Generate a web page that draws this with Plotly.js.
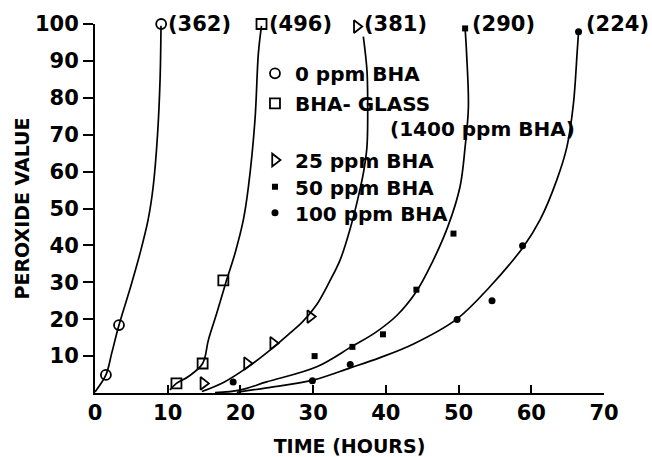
<!DOCTYPE html>
<html>
<head>
<meta charset="utf-8">
<script src="https://cdn.plot.ly/plotly-3.0.1.min.js"></script>
<style>html,body{margin:0;padding:0;background:#fff;}#chart{width:652px;height:457px;}</style>
</head>
<body>
<div id="chart"></div>
<script>
// ---- measured points (hours, peroxide value) ----
const ppm0X = [1.5, 3.3, 9.1];
const ppm0Y = [4.9, 18.4, 100];
const glassX = [11.2, 14.8, 17.65, 22.9];
const glassY = [2.6, 8.0, 30.5, 100];
const ppm25X = [14.9, 20.9, 24.5, 29.6, 36.0];
const ppm25Y = [2.6, 8.0, 13.5, 20.7, 99.3];
const ppm50X = [30.2, 35.4, 39.6, 44.2, 49.3, 50.9];
const ppm50Y = [10.0, 12.5, 15.9, 28.0, 43.2, 98.8];
const ppm100X = [19.0, 29.9, 35.1, 49.8, 54.6, 58.8, 66.5];
const ppm100Y = [3.0, 3.3, 7.7, 19.9, 25.0, 39.9, 97.9];

// ---- hand-drawn curves ----
const curve0X = [0.0, 1.5, 2.3, 3.3, 4.9, 6.2, 7.3, 8.0, 8.6, 8.95, 9.08];
const curve0Y = [0.3, 4.9, 10.8, 18.4, 28.8, 37.9, 46.9, 55.9, 70.0, 85.0, 99.5];
const curveGlassX = [10.3, 11.2, 12.8, 14.8, 15.6, 16.74, 18.1, 19.26, 20.4, 21.1, 22.0, 22.47, 22.9];
const curveGlassY = [0.8, 2.6, 4.4, 8.0, 14.4, 21.6, 30.6, 37.9, 46.9, 55.9, 74.0, 92.1, 99.5];
const curve25X = [14.7, 17.8, 21.0, 24.5, 26.8, 28.5, 30.5, 32.2, 33.7, 35.1, 36.0, 36.9, 37.4, 37.5, 37.4, 36.9];
const curve25Y = [0.4, 3.0, 7.0, 12.3, 16.2, 19.2, 24.0, 30.0, 36.0, 44.6, 51.4, 59.5, 66.7, 78.5, 87.5, 96.6];
const curve50X = [16.5, 19.9, 23.6, 30.5, 35.4, 38.5, 41.5, 44.2, 46.4, 48.6, 50.2, 50.9, 51.35, 51.1, 50.9];
const curve50Y = [0.1, 0.8, 3.0, 7.1, 12.7, 16.3, 21.0, 27.5, 35.5, 45.5, 55.9, 66.7, 77.6, 92.1, 98.8];
const curve100X = [19.5, 23.6, 30.0, 35.1, 39.2, 43.8, 49.8, 54.3, 58.9, 61.2, 63.5, 64.9, 65.8, 66.3, 66.5];
const curve100Y = [0.2, 1.4, 3.5, 6.8, 9.6, 13.3, 20.1, 28.8, 39.6, 46.9, 57.7, 66.7, 78.5, 92.1, 97.9];

// ---- text ----
const seriesNames = ['0 ppm BHA', 'BHA- GLASS', '25 ppm BHA', '50 ppm BHA', '100 ppm BHA'];
const glassNote = '(1400 ppm BHA)';
const topLabels = ['(362)', '(496)', '(381)', '(290)', '(224)'];
const xTicks = [0, 10, 20, 30, 40, 50, 60, 70];
const yTicks = [10, 20, 30, 40, 50, 60, 70, 80, 90, 100];
const xTitle = 'TIME (HOURS)';
const yTitle = 'PEROXIDE VALUE';

const FONT = 'DejaVu Sans';
const black = '#000';

function markerTrace(x, y, name, symbol, size, lw, legendId) {
  return {
    x: x, y: y, name: name, type: 'scatter', mode: 'markers',
    marker: {symbol: symbol, size: size, color: black, line: {color: black, width: lw}},
    cliponaxis: false, showlegend: true, legend: legendId
  };
}
function curveTrace(x, y) {
  return {
    x: x, y: y, type: 'scatter', mode: 'lines',
    line: {color: black, width: 1.7, shape: 'spline', smoothing: 1},
    cliponaxis: false, showlegend: false, hoverinfo: 'skip'
  };
}

const traces = [
  curveTrace(curve0X, curve0Y),
  curveTrace(curveGlassX, curveGlassY),
  curveTrace(curve25X, curve25Y),
  curveTrace(curve50X, curve50Y),
  curveTrace(curve100X, curve100Y),
  markerTrace(ppm0X, ppm0Y, seriesNames[0], 'circle-open', 10, 1.8, 'legend'),
  markerTrace(glassX, glassY, seriesNames[1], 'square-open', 10, 1.8, 'legend2'),
  markerTrace(ppm25X, ppm25Y, seriesNames[2], 'triangle-right-open', 11, 1.8, 'legend3'),
  markerTrace(ppm50X, ppm50Y, seriesNames[3], 'square', 6, 0, 'legend4'),
  markerTrace(ppm100X, ppm100Y, seriesNames[4], 'circle', 7, 0, 'legend5')
];

const tops = [
  [ppm0X, ppm0Y], [glassX, glassY], [ppm25X, ppm25Y], [ppm50X, ppm50Y], [ppm100X, ppm100Y]
];
const annotations = tops.map(function (s, i) {
  return {
    x: s[0][s[0].length - 1], y: 100, xref: 'x', yref: 'y',
    text: topLabels[i], showarrow: false, xanchor: 'left', yanchor: 'middle', xshift: 5,
    font: {family: FONT, size: 21, color: black, weight: 'bold'}
  };
});
annotations.push({
  x: 0.5756, y: 0.7154, xref: 'paper', yref: 'paper', text: glassNote, showarrow: false,
  xanchor: 'left', yanchor: 'middle', font: {family: FONT, size: 20, color: black, weight: 'bold'}
});

const legendFont = {family: FONT, size: 20, color: black, weight: 'bold'};
function legendAt(y) {
  return {x: 0.3143, y: y, xanchor: 'left', yanchor: 'middle', bgcolor: 'rgba(0,0,0,0)',
          borderwidth: 0, font: legendFont, itemwidth: 30};
}

const layout = {
  width: 652, height: 457,
  margin: {l: 95, r: 48, t: 24, b: 64, autoexpand: false},
  paper_bgcolor: '#fff', plot_bgcolor: '#fff',
  font: {family: FONT, color: black, weight: 'bold'},
  showlegend: true,
  legend: legendAt(0.8664),
  legend2: legendAt(0.7851),
  legend3: legendAt(0.6314),
  legend4: legendAt(0.5591),
  legend5: legendAt(0.4886),
  xaxis: {
    range: [0, 70], tickvals: xTicks, ticktext: xTicks.map(String),
    ticks: 'inside', ticklen: 8, tickwidth: 2, tickcolor: black,
    showline: true, linewidth: 2, linecolor: black, showgrid: false, zeroline: false,
    tickfont: {family: FONT, size: 21, color: black, weight: 'bold'},
    title: {text: xTitle, standoff: 16, font: {family: FONT, size: 19, color: black, weight: 'bold'}},
    automargin: false
  },
  yaxis: {
    range: [0, 100], tickvals: yTicks, ticktext: yTicks.map(String),
    ticks: 'outside', ticklen: 10, tickwidth: 2, tickcolor: black,
    showline: true, linewidth: 2, linecolor: black, showgrid: false, zeroline: false,
    tickfont: {family: FONT, size: 21, color: black, weight: 'bold'},
    title: {text: yTitle, standoff: 0, font: {family: FONT, size: 19, color: black, weight: 'bold'}},
    automargin: false
  },
  annotations: annotations
};

Plotly.newPlot('chart', traces, layout, {displayModeBar: false, staticPlot: true});
</script>
</body>
</html>
